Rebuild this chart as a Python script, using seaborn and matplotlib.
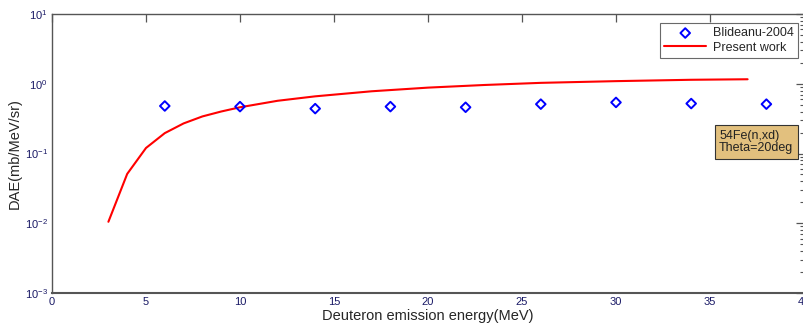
import matplotlib
matplotlib.use("Agg")
import matplotlib.pyplot as plt
import seaborn as sns
import pandas as pd
from matplotlib.ticker import LogLocator, FixedLocator

sns.set_style("white")
plt.rcParams['font.family'] = ['Liberation Sans', 'DejaVu Sans']
plt.rcParams['axes.unicode_minus'] = False

# Experimental data (Blideanu-2004)
exp_energy = [6, 10, 14, 18, 22, 26, 30, 34, 38]
exp_dae = [0.48, 0.47, 0.44, 0.47, 0.46, 0.51, 0.54, 0.52, 0.51]

# Calculation (Present work)
calc_energy = [3, 4, 5, 6, 7, 8, 9, 10, 12, 14, 17, 20, 23, 26, 30, 34, 37]
calc_dae = [0.0105, 0.051, 0.12, 0.196, 0.27, 0.34, 0.40, 0.46, 0.57, 0.66,
            0.78, 0.88, 0.96, 1.03, 1.09, 1.14, 1.16]

x_ticks = [0, 5, 10, 15, 20, 25, 30, 35, 40]

df_exp = pd.DataFrame({"E": exp_energy, "DAE": exp_dae})
df_calc = pd.DataFrame({"E": calc_energy, "DAE": calc_dae})

fig = plt.figure(figsize=(8.04, 3.29), dpi=100)
ax = fig.add_axes([52/804, 1-293/329, (804-52)/804, (293-14)/329])

sns.scatterplot(data=df_exp, x="E", y="DAE", ax=ax, marker="D", s=24,
                facecolor="none", edgecolor="#0000ff", linewidth=1.4,
                label="Blideanu-2004", zorder=3)
sns.lineplot(data=df_calc, x="E", y="DAE", ax=ax, color="#ff0000",
             linewidth=1.5, label="Present work", zorder=2)

ax.set_yscale("log")
ax.set_xlim(0, 40)
ax.set_ylim(1e-3, 1e1)
ax.xaxis.set_major_locator(FixedLocator(x_ticks))
ax.set_xticklabels([str(t) for t in x_ticks])
ax.yaxis.set_major_locator(LogLocator(base=10, numticks=10))
ax.yaxis.set_minor_locator(LogLocator(base=10, subs=range(2, 10), numticks=20))

lab_col = "#1a1a66"
ax.tick_params(axis="both", which="both", direction="in", top=True, right=True,
               colors="#555555", labelcolor=lab_col, labelsize=8, pad=3)
ax.tick_params(which="major", length=6, width=0.9)
ax.tick_params(which="minor", length=3, width=0.8)
for s in ax.spines.values():
    s.set_color("#555555")
    s.set_linewidth(1.0)
ax.spines["bottom"].set_linewidth(1.5)

ax.set_xlabel("Deuteron emission energy(MeV)", fontsize=10.5, labelpad=1)
ax.set_ylabel("DAE(mb/MeV/sr)", fontsize=10.5, labelpad=2)

leg = ax.legend(loc="upper right", bbox_to_anchor=(0.992, 0.968), fontsize=9,
                frameon=True, fancybox=False, edgecolor="#444444",
                handlelength=3.4, borderpad=0.35, labelspacing=0.2,
                handletextpad=0.5, borderaxespad=0)
leg.get_frame().set_linewidth(0.8)

ax.text(0.887, 0.541, "54Fe(n,xd)\nTheta=20deg", transform=ax.transAxes,
        fontsize=9, va="center", ha="left", linespacing=1.05, color="#222222",
        bbox=dict(boxstyle="square,pad=0.35", facecolor="#e2c07e",
                  edgecolor="#333333", linewidth=0.8))

fig.savefig("out.png", dpi=100)
